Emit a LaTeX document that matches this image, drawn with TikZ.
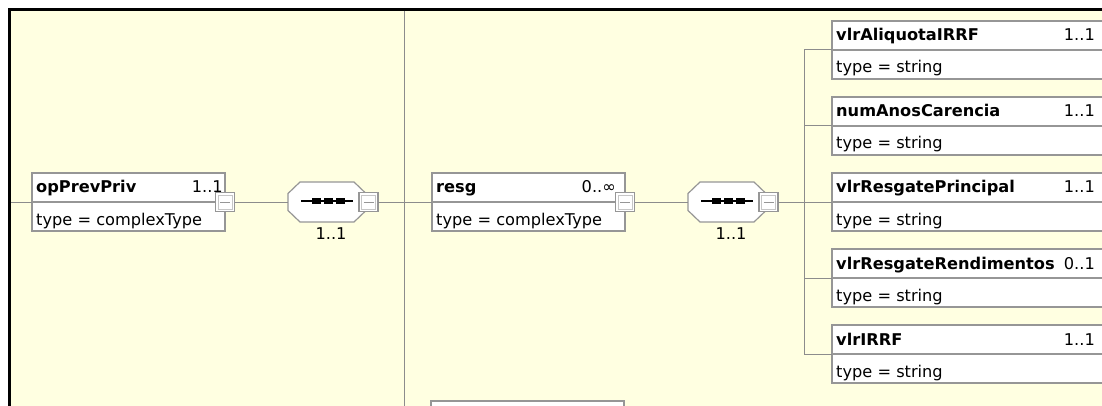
\documentclass[tikz,border=0pt]{standalone}
\usepackage{fontspec}
\setmainfont{DejaVu Sans}
\usetikzlibrary{calc}
\definecolor{bgyellow}{RGB}{255,255,225}
\definecolor{lngray}{RGB}{140,140,140}
\definecolor{bxgray}{RGB}{150,150,150}
\tikzset{
  conn/.style={draw=lngray, line width=1pt},
  elbox/.style={draw=bxgray, line width=1.2pt, fill=white, anchor=north west,
    minimum width=193pt, minimum height=58pt, inner sep=0pt, outer sep=0pt},
  rbox/.style={elbox, minimum width=290pt},
  divline/.style={draw=bxgray, line width=1.2pt},
  ttl/.style={anchor=base west, inner sep=0pt, font=\fontsize{16.2}{19}\selectfont\bfseries},
  typ/.style={anchor=base west, inner sep=0pt, font=\fontsize{16.2}{19}\selectfont},
  mult/.style={anchor=base east, inner sep=0pt, font=\fontsize{16.2}{19}\selectfont},
  multc/.style={anchor=base, inner sep=0pt, font=\fontsize{16.2}{19}\selectfont},
  minusbox/.style={draw=bxgray, line width=1.2pt, fill=white,
    minimum width=19pt, minimum height=19pt, inner sep=0pt, outer sep=0pt},
  seqslot/.style={minimum width=78pt, minimum height=40pt, inner sep=0pt, outer sep=0pt},
  octa/.style={draw=bxgray, line width=1.2pt, fill=white},
}
\newcommand{\minusmark}[1]{%
  \draw[gray!45, line width=0.8pt] ($(#1.north west)+(2.5,2.5)$) rectangle ($(#1.south east)+(-2.5,-2.5)$);
  \draw[bxgray, line width=1pt] ($(#1.center)+(-5,0)$) -- ($(#1.center)+(5,0)$);}
\newcommand{\seqglyph}[1]{%
  \draw[black, line width=1.6pt] ($(#1.center)+(-26,-1)$) -- ($(#1.center)+(26,-1)$);
  \foreach \dx in {-11,1,13}{\fill[black] ($(#1.center)+(\dx-4.5,-4)$) rectangle ($(#1.center)+(\dx+4.5,2)$);}}
\begin{document}
\begin{tikzpicture}[x=1pt,y=-1pt]
\useasboundingbox (0,0) rectangle (1102,406);
\clip (0,0) rectangle (1102,406);
\fill[white] (0,0) rectangle (1102,406);
\fill[bgyellow] (11,11) rectangle (1102,406);
\fill[black] (8,8) rectangle (1102,11);
\fill[black] (8,8) rectangle (11,406);

% coordinates for free connector ends
\coordinate (lstart) at (11,202);
\coordinate (vt1) at (404,11);
\coordinate (vb1) at (404,406);
\coordinate (vj1) at (404,202);
\coordinate (vt2) at (804,50);
\coordinate (vb2) at (804,354);
\coordinate (vj2) at (804,202);
\coordinate (vr2) at (804,126);
\coordinate (vr4) at (804,278);

% connectors (drawn first, boxes cover them)
\draw[conn] (vt1) -- (vb1);
\draw[conn] (vt2) -- (vb2);

% --- opPrevPriv
\node[elbox] (op) at (32,173) {};
\draw[divline] (op.west) -- (op.east);
\node[ttl] (opT) at (36,193) {opPrevPriv};
\node[mult] (opN) at (223,193) {1..1};
\node[typ] (opY) at (36,225) {type = complexType};
\node[minusbox] (opM) at (op.east) {};
\minusmark{opM}

% --- sequence 1
\node[seqslot] (seq1) at (327,202) {};
\draw[octa, shift={(seq1.center)}] (-39,-8.5) -- (-27,-20) -- (27,-20) -- (39,-8.5) -- (39,8.5) -- (27,20) -- (-27,20) -- (-39,8.5) -- cycle;
\seqglyph{seq1}
\node[minusbox] (seq1M) at (368.5,202) {};
\minusmark{seq1M}
\node[multc] (seq1L) at (331,239) {1..1};

% --- resg
\node[elbox] (resg) at (432,173) {};
\draw[divline] (resg.west) -- (resg.east);
\node[ttl] (resgT) at (436,193) {resg};
\node[mult] (resgN) at (616,193) {0..∞};
\node[typ] (resgY) at (436,225) {type = complexType};
\node[minusbox] (resgM) at (resg.east) {};
\minusmark{resgM}

% --- sequence 2
\node[seqslot] (seq2) at (727,202) {};
\draw[octa, shift={(seq2.center)}] (-39,-8.5) -- (-27,-20) -- (27,-20) -- (39,-8.5) -- (39,8.5) -- (27,20) -- (-27,20) -- (-39,8.5) -- cycle;
\seqglyph{seq2}
\node[minusbox] (seq2M) at (768.5,202) {};
\minusmark{seq2M}
\node[multc] (seq2L) at (731,239) {1..1};

% --- right column
\node[rbox] (c1) at (832,21) {};
\node[rbox] (c2) at (832,97) {};
\node[rbox] (c3) at (832,173) {};
\node[rbox] (c4) at (832,249) {};
\node[rbox] (c5) at (832,325) {};
\foreach \n in {c1,c2,c3,c4,c5}{\draw[divline] (\n.west) -- (\n.east);}

\node[ttl] at (836,41) {vlrAliquotaIRRF};
\node[mult] at (1095,41) {1..1};
\node[typ] at (836,73) {type = string};
\node[ttl] at (836,117) {numAnosCarencia};
\node[mult] at (1095,117) {1..1};
\node[typ] at (836,149) {type = string};
\node[ttl] at (836,193) {vlrResgatePrincipal};
\node[mult] at (1095,193) {1..1};
\node[typ] at (836,225) {type = string};
\node[ttl] at (836,269) {vlrResgateRendimentos};
\node[mult] at (1095,269) {0..1};
\node[typ] at (836,301) {type = string};
\node[ttl] at (836,345) {vlrIRRF};
\node[mult] at (1095,345) {1..1};
\node[typ] at (836,377) {type = string};

% --- next sibling box, cut off at bottom
\node[elbox] (nxt) at (431,401) {};

% connectors between named nodes
\draw[conn] (lstart) -- (op.west);
\draw[conn] (opM.east) -- (seq1.west);
\draw[conn] (seq1M.east) -- (vj1);
\draw[conn] (vj1) -- (resg.west);
\draw[conn] (resgM.east) -- (seq2.west);
\draw[conn] (seq2M.east) -- (vj2);
\draw[conn] (vt2) -- (c1.west);
\draw[conn] (vr2) -- (c2.west);
\draw[conn] (vj2) -- (c3.west);
\draw[conn] (vr4) -- (c4.west);
\draw[conn] (vb2) -- (c5.west);
\end{tikzpicture}
\end{document}
